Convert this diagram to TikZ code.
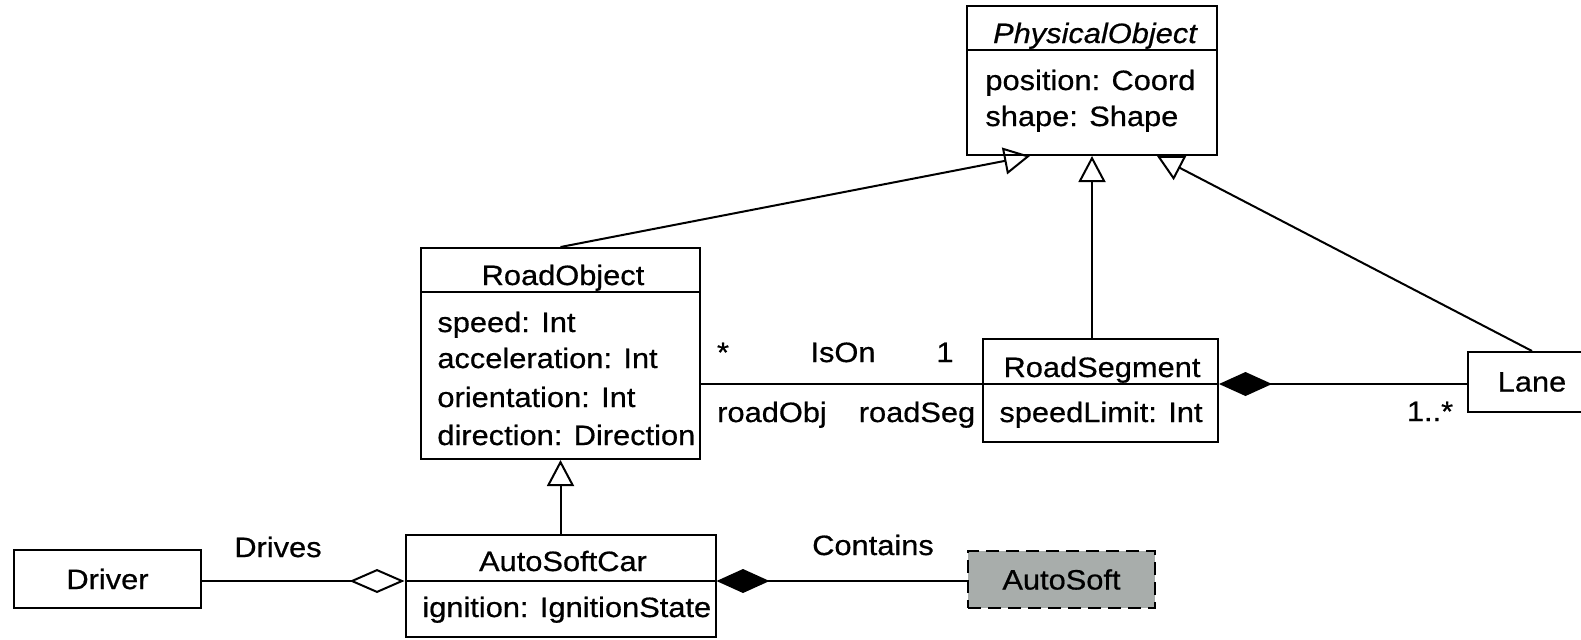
\documentclass[tikz,border=0pt]{standalone}
\usepackage{fontspec}
\setmainfont{Liberation Sans}[FakeStretch=1.1,FakeBold=0.6]
\usetikzlibrary{arrows.meta,calc}
\definecolor{compgray}{RGB}{168,173,171}
\begin{document}
\begin{tikzpicture}[x=0.5pt,y=-0.5pt,
  every node/.style={font=\fontsize{14pt}{16pt}\selectfont},
  umlbox/.style={draw,line width=1pt,rectangle,inner sep=0pt},
  txt/.style={inner sep=0pt,anchor=base},
  attr/.style={inner sep=0pt,anchor=base west},
  conn/.style={line width=1pt},
  gen/.style={conn,-{Triangle[open,length=13pt,width=13.5pt]}},
  comp/.style={conn,-{Diamond[length=26.5pt,width=12pt]}},
  agg/.style={conn,-{Diamond[open,length=27.5pt,width=12pt]}},
  compbox/.style={umlbox,fill=compgray,dash pattern=on 6.5pt off 3.5pt}]

\useasboundingbox (0,0) rectangle (1581,639);
\fill[white] (0,0) rectangle (1581,639);
\clip (0,0) rectangle (1581,639);

% ---- classes ----
\node[umlbox,minimum width=125pt,minimum height=74.5pt] (po) at (1092,80.5) {};
\draw[conn] ([yshift=-22.5pt]po.north west) -- ([yshift=-22.5pt]po.north east);
\node[txt] (poT) at (1095,43) {\itshape PhysicalObject};
\node[attr] (poA1) at (985,90) {position: Coord};
\node[attr] (poA2) at (985,126) {shape: Shape};

\node[umlbox,minimum width=139.5pt,minimum height=105.5pt] (ro) at (560.5,353.5) {};
\draw[conn] ([yshift=-22.5pt]ro.north west) -- ([yshift=-22.5pt]ro.north east);
\node[txt] (roT) at (563,285) {RoadObject};
\node[attr] (roA1) at (437,332) {speed: Int};
\node[attr] (roA2) at (437,368) {acceleration: Int};
\node[attr] (roA3) at (437,407) {orientation: Int};
\node[attr] (roA4) at (437,445) {direction: Direction};

\node[umlbox,minimum width=117.5pt,minimum height=51.5pt] (rs) at (1100.5,390.5) {};
\coordinate (rsDiv) at ([yshift=3.25pt]rs.west);
\draw[conn] (rsDiv) -- (rsDiv -| rs.east);
\node[txt] (rsT) at (1102,377) {RoadSegment};
\node[attr] (rsA1) at (999,422) {speedLimit: Int};

\node[umlbox,minimum width=64pt,minimum height=30pt] (lane) at (1532,382) {Lane};

\node[umlbox,minimum width=155pt,minimum height=51pt] (asc) at (560.5,586) {};
\coordinate (ascDiv) at ([yshift=2.5pt]asc.west);
\draw[conn] (ascDiv) -- (ascDiv -| asc.east);
\node[txt] (ascT) at (563,571) {AutoSoftCar};
\node[attr] (ascA1) at (422,617) {ignition: IgnitionState};

\node[umlbox,minimum width=93.5pt,minimum height=29pt] (drv) at (107.5,579) {Driver};
\node[compbox,minimum width=93.5pt,minimum height=28.5pt] (as) at (1061.5,579.5) {AutoSoft};

% ---- generalizations ----
\draw[gen] (ro.north) -- ([xshift=-31pt]po.south);
\draw[gen] (rs.north -| po.south) -- (po.south);
\draw[gen] (lane.north) -- ([xshift=32.5pt]po.south);
\draw[gen] (asc.north) -- (asc.north |- ro.south);

% ---- associations ----
\draw[conn] (ro.east |- rsDiv) -- (rsDiv);
\node[txt] (isonM1) at (723,362) {*};
\node[txt] (isonN) at (843,362) {IsOn};
\node[txt] (isonM2) at (945,362) {1};
\node[txt] (isonR1) at (772,422) {roadObj};
\node[txt] (isonR2) at (917,422) {roadSeg};

\draw[comp] (lane.west |- rsDiv) -- (rsDiv -| rs.east);
\node[txt] (laneM) at (1430,421) {1..*};

\draw[agg] (drv.east |- ascDiv) -- (ascDiv);
\node[txt] (drivesN) at (278,557) {Drives};

\draw[comp] (as.west |- ascDiv) -- (ascDiv -| asc.east);
\node[txt] (containsN) at (873,555) {Contains};
\end{tikzpicture}
\end{document}
